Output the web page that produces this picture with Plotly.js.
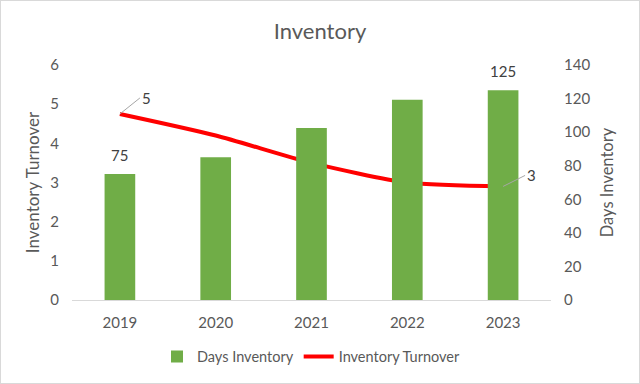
<!DOCTYPE html>
<html><head><meta charset="utf-8">
<script src="https://cdn.plot.ly/plotly-3.0.1.min.js"></script>
<style>html,body{margin:0;padding:0;background:#fff}#c{width:640px;height:384px;box-sizing:border-box;border:1px solid #d9d9d9}</style>
</head><body><div id="c"></div>
<script>
const years = [2019, 2020, 2021, 2022, 2023];
const daysInventory = [75, 85, 102.5, 119.3, 125];
const inventoryTurnover = [4.75, 4.2, 3.5, 3.0, 2.9];
const daysLabels = ['75','','','','125'];
const turnoverLabels = ['5','','','','3'];

const fontFam = 'Lato, "Open Sans", sans-serif';
const grey = '#595959';
const dark = '#404040';

const traces = [
  {type:'bar', name:'Days Inventory', x:years, y:daysInventory, yaxis:'y2', width:0.32,
   marker:{color:'#70AD47'}, hoverinfo:'skip'},
  {type:'scatter', mode:'lines', name:'Inventory Turnover', x:years, y:inventoryTurnover,
   line:{color:'#FF0000', width:4, shape:'spline', smoothing:0.7}, hoverinfo:'skip'}
];

const annotations = [];
daysLabels.forEach((t,i)=>{
  if(!t) return;
  annotations.push({x:years[i], y:daysInventory[i], xref:'x', yref:'y2', text:t,
    showarrow:false, yanchor:'bottom', yshift:8, font:{family:fontFam,size:15,color:dark}});
});
turnoverLabels.forEach((t,i)=>{
  if(!t) return;
  const first = i===0;
  annotations.push({x:years[i], y:inventoryTurnover[i], xref:'x', yref:'y', text:t,
    showarrow:true, arrowhead:0, arrowwidth:1, arrowcolor:'#a6a6a6', standoff:0,
    ax: first?20:22, ay: first?-16:-11, xanchor:'left', yanchor:'middle',
    font:{family:fontFam,size:15,color:dark}});
});

const layout = {
  width:638, height:382,
  margin:{l:71, r:88, t:64, b:82},
  paper_bgcolor:'#fff', plot_bgcolor:'#fff',
  title:{text:'Inventory', x:0.5, xanchor:'center', y:0.92, yanchor:'middle', font:{family:fontFam,size:22,color:grey}},
  showlegend:true,
  legend:{orientation:'h', x:0.5, xanchor:'center', y:-0.235, yanchor:'middle',
    font:{family:fontFam,size:14.5,color:grey}, traceorder:'normal'},
  xaxis:{type:'linear', range:[2018.5,2023.5], tickvals:years, ticktext:years.map(String),
    showgrid:false, showline:true, linecolor:'#d9d9d9', linewidth:1, ticklabelstandoff:9,
    ticks:'', tickfont:{family:fontFam,size:15,color:grey}, zeroline:false},
  yaxis:{range:[0,6], dtick:1, showgrid:false, zeroline:false, showline:false, ticks:'',
    ticklabelstandoff:12, tickfont:{family:fontFam,size:15,color:grey},
    title:{text:'Inventory Turnover', font:{family:fontFam,size:17,color:grey}, standoff:6}},
  yaxis2:{range:[0,140], dtick:20, overlaying:'y', side:'right', showgrid:false, zeroline:false,
    showline:false, ticks:'', ticklabelstandoff:12, tickfont:{family:fontFam,size:15,color:grey},
    title:{text:'Days Inventory', font:{family:fontFam,size:16.5,color:grey}, standoff:12}},
  annotations: annotations
};
Plotly.newPlot('c', traces, layout, {staticPlot:true, displayModeBar:false});
</script></body></html>
